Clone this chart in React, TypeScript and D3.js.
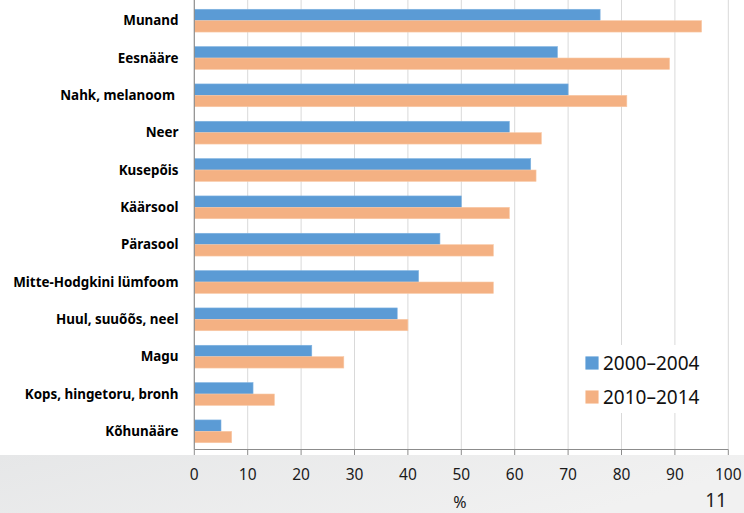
import React from "react";
import * as d3 from "d3";

const categories = [
  "Munand",
  "Eesnääre",
  "Nahk, melanoom ",
  "Neer",
  "Kusepõis",
  "Käärsool",
  "Pärasool",
  "Mitte-Hodgkini lümfoom",
  "Huul, suuõõs, neel",
  "Magu",
  "Kops, hingetoru, bronh",
  "Kõhunääre",
];
const series1Name = "2000–2004";
const series2Name = "2010–2014";
const series1 = [76, 68, 70, 59, 63, 50, 46, 42, 38, 22, 11, 5];
const series2 = [95, 89, 81, 65, 64, 59, 56, 56, 40, 28, 15, 7];
const xTicks = [0, 10, 20, 30, 40, 50, 60, 70, 80, 90, 100];
const axisTitle = "%";
const pageNumber = "11";

const W = 744;
const H = 513;
const BLUE = "#5b9bd5";
const ORANGE = "#f4b183";
const FONT = "'Noto Sans', 'Open Sans', sans-serif";

export default function App() {
  const x = d3.scaleLinear().domain([0, 100]).range([194.3, 728.3]);
  const y = d3
    .scaleBand<string>()
    .domain(categories)
    .range([2, 450])
    .paddingInner(0.39)
    .paddingOuter(0.195);
  const sub = d3
    .scaleBand<string>()
    .domain(["a", "b"])
    .range([0, y.bandwidth()]);
  const axisY = 449.5;
  const grad = "bgGrad";

  return (
    <svg
      width={W}
      height={H}
      style={{ position: "absolute", left: 0, top: 0, background: "#fff" }}
      fontFamily={FONT}
    >
      <defs>
        <linearGradient id={grad} x1="0" y1="0" x2="1" y2="0.3">
          <stop offset="0" stopColor="#e6e7e8" />
          <stop offset="1" stopColor="#f1f1f1" />
        </linearGradient>
      </defs>
      <rect x={0} y={0} width={W} height={H} fill="#fff" />
      <rect x={0} y={455} width={W} height={H - 455} fill={`url(#${grad})`} />

      {/* gridlines */}
      {xTicks.slice(1).map((t) => (
        <line
          key={"g" + t}
          x1={x(t)}
          x2={x(t)}
          y1={0}
          y2={axisY}
          stroke="#d9d9d9"
          strokeWidth={1}
        />
      ))}

      {/* bars */}
      {categories.map((c, i) => (
        <g key={c}>
          <rect
            x={x(0)}
            y={(y(c) as number) + (sub("a") as number)}
            width={x(series1[i]) - x(0)}
            height={sub.bandwidth()}
            fill={BLUE}
            stroke="#7fb2e0"
            strokeWidth={0.6}
          />
          <rect
            x={x(0)}
            y={(y(c) as number) + (sub("b") as number)}
            width={x(series2[i]) - x(0)}
            height={sub.bandwidth()}
            fill={ORANGE}
            stroke="#f8c9a6"
            strokeWidth={0.6}
          />
        </g>
      ))}

      {/* y axis */}
      <line x1={x(0)} x2={x(0)} y1={0} y2={axisY} stroke="#8c8c8c" strokeWidth={1.2} />
      {/* x axis */}
      <line x1={x(0)} x2={x(100)} y1={axisY} y2={axisY} stroke="#8c8c8c" strokeWidth={1.2} />
      {xTicks.map((t) => (
        <line
          key={"t" + t}
          x1={x(t)}
          x2={x(t)}
          y1={axisY}
          y2={455}
          stroke="#8c8c8c"
          strokeWidth={1}
        />
      ))}

      {/* category labels */}
      {categories.map((c) => (
        <text
          key={"l" + c}
          x={178.5}
          y={(y(c) as number) + y.bandwidth() / 2}
          dy="0.35em"
          textAnchor="end"
          fontSize={13.4}
          fontWeight="bold"
          fill="#000"
          style={{ whiteSpace: "pre" }}
        >
          {c}
        </text>
      ))}

      {/* tick labels */}
      {xTicks.map((t) => (
        <text
          key={"x" + t}
          x={x(t)}
          y={480}
          textAnchor="middle"
          fontSize={15.5}
          fill="#1a1a1a"
        >
          {t}
        </text>
      ))}
      <text x={460} y={508} textAnchor="middle" fontSize={16} fill="#1a1a1a">
        {axisTitle}
      </text>

      {/* legend */}
      <rect x={580} y={345} width={133} height={68} fill="#fff" />
      <rect x={585.7} y={356.7} width={12.6} height={12.6} fill={BLUE} stroke="#7fb2e0" strokeWidth={0.6} />
      <text x={603} y={370} fontSize={19} fill="#111">
        {series1Name}
      </text>
      <rect x={585.7} y={390.7} width={12.6} height={12.6} fill={ORANGE} stroke="#f8c9a6" strokeWidth={0.6} />
      <text x={603} y={404} fontSize={19} fill="#111">
        {series2Name}
      </text>

      <text x={727} y={507} textAnchor="end" fontSize={19} fill="#222">
        {pageNumber}
      </text>
    </svg>
  );
}
